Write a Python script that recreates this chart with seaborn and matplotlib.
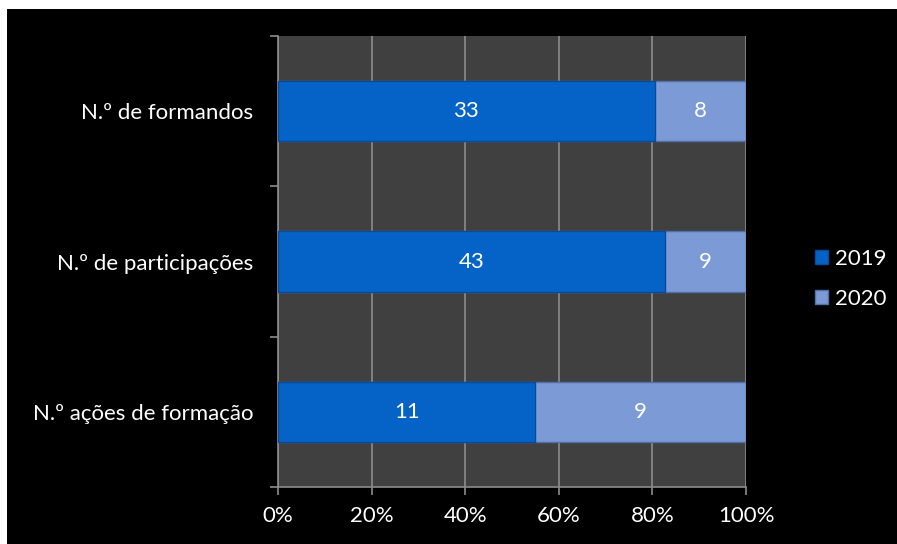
import numpy as np
import pandas as pd
import matplotlib
matplotlib.use("Agg")
import matplotlib.pyplot as plt
import seaborn as sns
from matplotlib.patches import Rectangle, Patch
from matplotlib.ticker import PercentFormatter

# data
categories = ["N.º de formandos", "N.º de participações", "N.º ações de formação"]
v2019 = [33, 43, 11]
v2020 = [8, 9, 9]

df = pd.DataFrame({"cat": categories, "y2019": v2019, "y2020": v2020})
df["total"] = df["y2019"] + df["y2020"]
df["p2019"] = df["y2019"] / df["total"] * 100
df["p_all"] = 100.0

c2019 = "#0563c8"
c2020 = "#7b9ad6"
grid_c = "#8c8c8c"
fs = 16

sns.set_theme(style="dark")
plt.rcParams["font.family"] = ["Lato", "DejaVu Sans"]

fig = plt.figure(figsize=(8.97, 5.44), dpi=100, facecolor="white")
fig.patches.append(Rectangle((7 / 897, -0.1), 2, 1.1 - 9 / 544, transform=fig.transFigure,
                             facecolor="black", edgecolor="none", zorder=-10))
ax = fig.add_axes([278 / 897, 57 / 544, (746 - 278) / 897, (487 - 36) / 544])
ax.set_facecolor("#404040")

# stacked: full bar in 2020 colour, 2019 share on top
sns.barplot(data=df, x="p_all", y="cat", color=c2020, width=0.4, orient="h", saturation=1,
            edgecolor="#5270a8", linewidth=1, ax=ax, zorder=3)
sns.barplot(data=df, x="p2019", y="cat", color=c2019, width=0.4, orient="h", saturation=1,
            edgecolor="#0a4a9a", linewidth=1, ax=ax, zorder=4)

# value labels
for i, row in df.iterrows():
    ax.text(row["p2019"] / 2, i, str(row["y2019"]), color="white", fontsize=fs,
            ha="center", va="center", zorder=5)
    ax.text(row["p2019"] + (100 - row["p2019"]) / 2, i, str(row["y2020"]), color="white",
            fontsize=fs, ha="center", va="center", zorder=5)

ax.set_xlim(0, 100)
ax.set_ylim(2.5, -0.5)
ax.set_xticks(np.arange(0, 101, 20))
ax.xaxis.set_major_formatter(PercentFormatter(decimals=0))
ax.set_xlabel("")
ax.set_ylabel("")
ax.grid(axis="x", color=grid_c, linewidth=1.2, zorder=0)
ax.grid(axis="y", visible=False)
ax.set_axisbelow(True)

ax.set_yticks([-0.5, 0.5, 1.5, 2.5], minor=True)
ax.tick_params(axis="y", which="major", length=0, pad=18, colors="white", labelsize=fs)
ax.tick_params(axis="y", which="minor", length=6, width=1.2, color=grid_c, left=True)
ax.tick_params(axis="x", which="major", length=6, width=1.2, bottom=True,
               colors="white", labelsize=fs, pad=8)
ax.tick_params(axis="x", which="major", color=grid_c)

for s in ["top", "right"]:
    ax.spines[s].set_visible(False)
for s in ["left", "bottom"]:
    ax.spines[s].set_color(grid_c)
    ax.spines[s].set_linewidth(1.2)

handles = [Patch(facecolor=c2019, edgecolor="#0a4a9a", label="2019"),
           Patch(facecolor=c2020, edgecolor="#5270a8", label="2020")]
fig.legend(handles=handles, loc="center left", bbox_to_anchor=(815 / 897, (544 - 279) / 544),
           frameon=False, labelcolor="white", fontsize=fs, handlelength=0.6,
           handleheight=0.6, handletextpad=0.3, labelspacing=0.9,
           borderpad=0, borderaxespad=0)

fig.savefig("out.png", dpi=100, facecolor="white")
